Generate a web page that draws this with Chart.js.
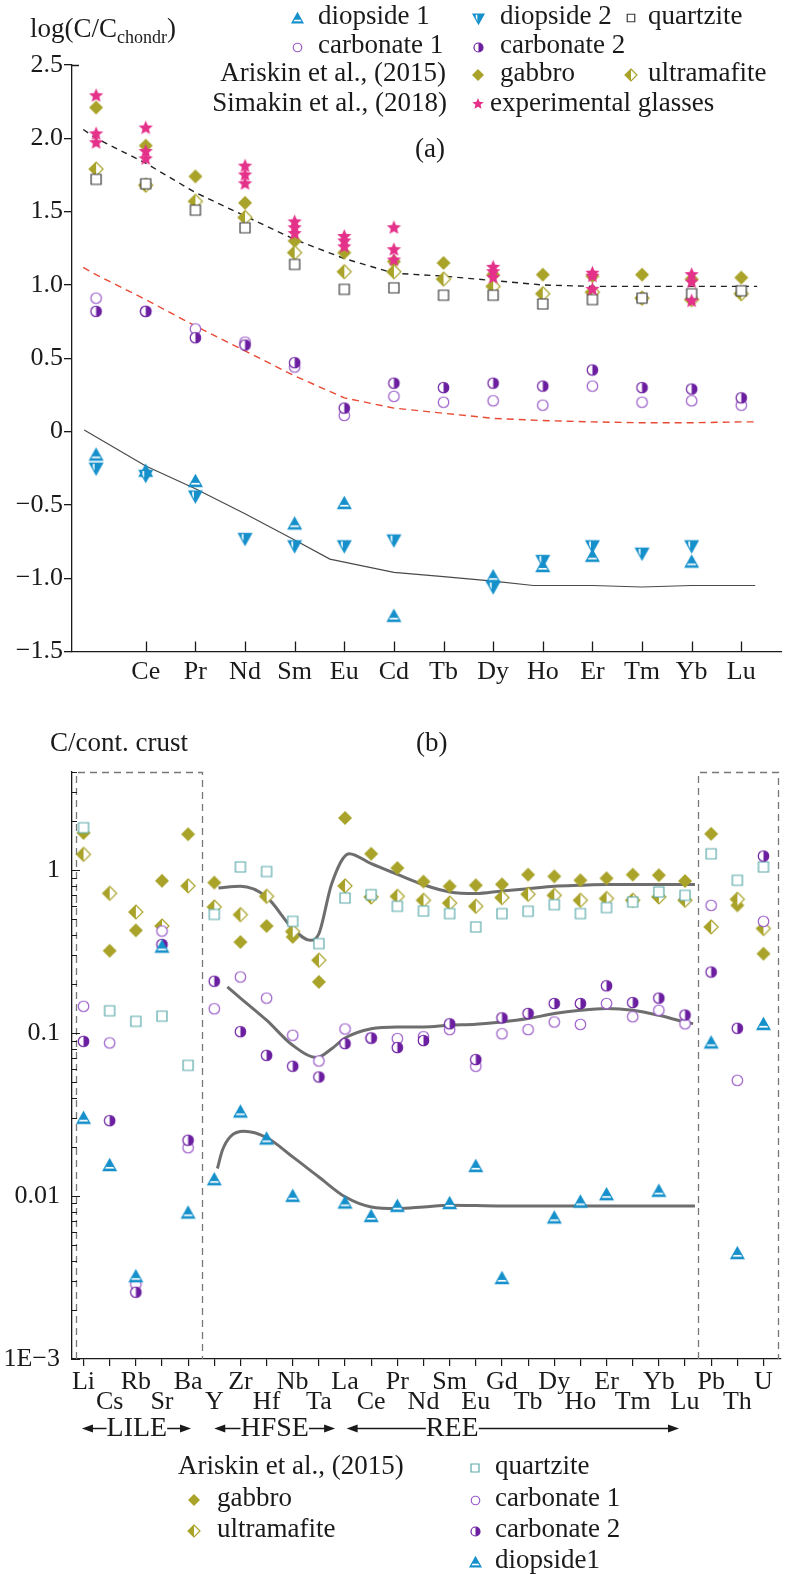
<!DOCTYPE html>
<html><head><meta charset="utf-8">
<script src="https://cdn.jsdelivr.net/npm/chart.js@4.4.1/dist/chart.umd.min.js"></script>
<style>
html,body{margin:0;padding:0;background:#fff}
body{width:788px;height:1574px;position:relative;overflow:hidden;font-family:'Liberation Serif','Times New Roman',serif;color:#1a1a1a}
canvas{position:absolute;left:0}
.t{position:absolute;white-space:nowrap;font-size:27px;line-height:27px}
.t sub{font-size:18px;vertical-align:baseline;position:relative;top:6px}
</style></head><body>
<canvas id="c1" width="788" height="720" style="top:0"></canvas>
<canvas id="c2" width="788" height="854" style="top:720px"></canvas>
<div id="texts"></div>
<script>
// ---------------- data: panel (a) ----------------
const topElements   = ['La','Ce','Pr','Nd','Sm','Eu','Cd','Tb','Dy','Ho','Er','Tm','Yb','Lu'];
const topTickLabels = ['','Ce','Pr','Nd','Sm','Eu','Cd','Tb','Dy','Ho','Er','Tm','Yb','Lu'];
const topYTicks = [2.5,2.0,1.5,1.0,0.5,0,-0.5,-1.0,-1.5];
const diop1Top  = [-0.16,-0.27,-0.34,null,-0.63,-0.49,-1.26,null,-0.99,-0.92,-0.85,null,-0.89,null];
const diop2Top  = [-0.25,-0.30,-0.44,-0.73,-0.78,-0.78,-0.74,null,-1.06,-0.88,-0.78,-0.83,-0.78,null];
const quartzTop = [1.72,1.69,1.51,1.39,1.14,0.97,0.98,0.93,0.93,0.87,0.90,0.91,0.94,0.96];
const carb1Top  = [0.91,0.82,0.70,0.61,0.44,0.11,0.24,0.20,0.21,0.18,0.31,0.20,0.21,0.18];
const carb2Top  = [0.82,0.82,0.64,0.59,0.47,0.16,0.33,0.30,0.33,0.31,0.42,0.30,0.29,0.23];
const gabbroTop = [2.21,1.95,1.74,1.56,1.30,1.22,1.16,1.15,1.07,1.07,1.06,1.07,1.04,1.05];
const ultraTop  = [1.79,1.68,1.57,1.46,1.22,1.09,1.09,1.04,0.99,0.94,0.95,0.91,0.90,0.94];
const glassTop  = [[2.29,2.03,1.97],[2.07,1.91,1.86],null,[1.81,1.75,1.69],[1.43,1.39,1.35],[1.33,1.30,1.26],[1.39,1.24,1.17],null,[1.12,1.09,1.05],null,[1.08,1.06,0.97],null,[1.07,1.02,0.89],null];
const trendTopX      = [-0.26,0,1,2,3,4,5,6,7,8,9,10,11,12,13,13.32];
const trendBlackDash = [2.06,2.00,1.83,1.63,1.47,1.31,1.18,1.08,1.06,1.03,1.00,0.99,0.99,0.99,0.99,0.99];
const trendRedDash   = [1.12,1.07,0.90,0.72,0.55,0.38,0.23,0.16,0.125,0.09,0.075,0.066,0.06,0.06,0.066,0.066];
const trendSolidX    = [-0.24,1,2,3,4,4.71,5,6,7,8,8.81,9,10,11,12,13,13.28];
const trendSolid     = [0.01,-0.235,-0.39,-0.56,-0.74,-0.87,-0.89,-0.96,-0.99,-1.02,-1.05,-1.05,-1.05,-1.06,-1.05,-1.05,-1.05];

// ---------------- data: panel (b) ----------------
const botCats = ['Li','Cs','Rb','Sr','Ba','Y','Zr','Hf','Nb','Ta','La','Ce','Pr','Nd','Sm','Eu','Gd','Tb','Dy','Ho','Er','Tm','Yb','Lu','Pb','Th','U'];
const botYTicks  = [0.001,0.01,0.1,1];
const botYLabels = ['1E\u22123','0.01','0.1','1'];
const gabbroBot = [1.69,0.32,0.427,0.86,1.66,0.838,0.362,0.454,0.389,0.206,2.09,1.26,1.03,0.85,0.796,0.807,0.818,0.938,0.916,0.866,0.891,0.938,0.93,0.857,1.67,0.608,0.307];
const ultraBot  = [1.25,0.72,0.553,0.454,0.80,0.594,0.533,0.69,0.42,0.28,0.80,0.684,0.69,0.653,0.628,0.60,0.678,0.711,0.70,0.653,0.669,0.653,0.684,0.653,0.448,0.662,0.438];
const quartzBot = [1.82,0.137,0.118,0.127,0.0634,0.535,1.045,0.98,0.485,0.354,0.674,0.707,0.60,0.561,0.541,0.448,0.541,0.559,0.614,0.541,0.589,0.637,0.734,0.70,1.26,0.866,1.045];
const carb1Bot  = [0.146,0.087,0.00288,0.423,0.0198,0.141,0.221,0.164,0.097,0.0674,0.106,0.093,0.0925,0.095,0.105,0.0626,0.099,0.105,0.117,0.113,0.152,0.126,0.138,0.114,0.608,0.0513,0.485];
const carb2Bot  = [0.089,0.029,0.00257,0.35,0.022,0.208,0.102,0.073,0.0626,0.0538,0.0862,0.0933,0.0815,0.090,0.114,0.0688,0.124,0.132,0.152,0.152,0.195,0.154,0.164,0.129,0.237,0.107,1.22];
const diop1Bot  = [0.030,0.0154,0.0032,0.337,0.00787,0.0126,0.0328,0.0224,0.00997,null,0.00907,0.0075,0.00865,null,0.009,0.0152,0.00312,null,0.00734,0.0092,0.0102,null,0.0107,null,0.087,0.00444,0.113];
const curveGabbroX = [5.16,6,7,8,8.67,9,9.49,10.16,11,12,13,14,15,16,17,18,19,20,21,22,23,23.38];
const curveGabbro  = [0.776,0.796,0.684,0.438,0.371,0.407,0.826,1.262,1.096,0.942,0.813,0.735,0.718,0.745,0.769,0.796,0.807,0.815,0.815,0.815,0.815,0.815];
const curveCarbX = [5.5,6,7,8,8.92,9.5,10,11,12,13,14,15,16,17,18,19,20,21,22,23,23.31];
const curveCarb  = [0.192,0.164,0.120,0.0841,0.0708,0.0804,0.0933,0.1064,0.1091,0.1091,0.1117,0.1132,0.1169,0.1227,0.1318,0.138,0.1413,0.138,0.1285,0.1169,0.1143];
const curveDiopX = [5.12,5.31,5.63,6.14,7,8,9,10,11,12,13,14,16,18,20,22,23.38];
const curveDiop  = [0.01476,0.0191,0.0233,0.0250,0.02286,0.01738,0.01309,0.00989,0.00857,0.00838,0.00857,0.00879,0.00869,0.00869,0.00869,0.00869,0.00869];

// ---------------- styling ----------------
const FONT = "'Liberation Serif','Times New Roman',serif";
const INK = '#1a1a1a', BLUE = '#1590cb', OLIVE = '#a9a32a', PINK = '#e4318a',
      PURPLE = '#6b1fa0', LILAC = '#9a5cc9', TEAL = '#5aa9aa', QGRAY = '#3a3a3a';
Chart.defaults.font.family = FONT;
Chart.defaults.color = INK;

function marker(type, color, s) {
  const W = Math.ceil(s) + 4, c = document.createElement('canvas');
  c.width = W; c.height = W;
  const g = c.getContext('2d'), m = W / 2, r = s / 2;
  g.lineWidth = 1.2; g.strokeStyle = color; g.fillStyle = color;
  const P = {
    up:   () => { g.beginPath(); g.moveTo(m, m - r); g.lineTo(m + r, m + 0.8 * r); g.lineTo(m - r, m + 0.8 * r); g.closePath(); },
    down: () => { g.beginPath(); g.moveTo(m - r, m - 0.8 * r); g.lineTo(m + r, m - 0.8 * r); g.lineTo(m, m + r); g.closePath(); },
    sq:   () => { g.beginPath(); g.rect(m - r, m - r, 2 * r, 2 * r); },
    ci:   () => { g.beginPath(); g.arc(m, m, r, 0, Math.PI * 2); },
    di:   () => { g.beginPath(); g.moveTo(m, m - r); g.lineTo(m + r, m); g.lineTo(m, m + r); g.lineTo(m - r, m); g.closePath(); }
  };
  if (type === 'd1') {
    P.up(); g.fill(); g.save(); P.up(); g.clip();
    g.fillStyle = '#fff'; g.fillRect(m - r, m + 0.22 * r, 2 * r, Math.max(1.6, 0.26 * r)); g.restore();
    P.up(); g.stroke();
  } else if (type === 'd2') {
    P.down(); g.fill(); g.save(); P.down(); g.clip();
    g.fillStyle = '#fff'; g.fillRect(m - 0.5 * r, m - r, Math.max(1.6, 0.26 * r), 2 * r); g.restore();
    P.down(); g.stroke();
  } else if (type === 'sq') {
    P.sq(); g.fillStyle = '#fff'; g.fill(); g.stroke();
  } else if (type === 'ci') {
    P.ci(); g.fillStyle = '#fff'; g.fill(); g.stroke();
  } else if (type === 'hc') {
    P.ci(); g.fillStyle = '#fff'; g.fill();
    g.fillStyle = color; g.beginPath(); g.arc(m, m, r, -Math.PI / 2, Math.PI / 2); g.closePath(); g.fill();
    P.ci(); g.stroke();
  } else if (type === 'di') {
    P.di(); g.fill();
  } else if (type === 'hd') {
    P.di(); g.fillStyle = '#fff'; g.fill();
    g.fillStyle = color; g.beginPath(); g.moveTo(m, m - r); g.lineTo(m - r, m); g.lineTo(m, m + r); g.closePath(); g.fill();
    P.di(); g.stroke();
  } else if (type === 'st') {
    g.beginPath();
    for (let k = 0; k < 10; k++) {
      const a = -Math.PI / 2 + k * Math.PI / 5, rr = k % 2 ? r * 0.45 : r;
      g.lineTo(m + rr * Math.cos(a), m + rr * Math.sin(a));
    }
    g.closePath(); g.fill();
  }
  return c;
}

function pts(arr) {
  const o = [];
  arr.forEach((v, i) => {
    if (v == null) return;
    if (Array.isArray(v)) v.forEach(w => o.push({x: i, y: w}));
    else o.push({x: i, y: v});
  });
  return o;
}
function curve(xs, ys) { return xs.map((x, i) => ({x: x, y: ys[i]})); }

// markers
const MT = { d1: marker('d1', BLUE, 13), d2: marker('d2', BLUE, 13), sq: marker('sq', QGRAY, 10),
  ci: marker('ci', LILAC, 10.5), hc: marker('hc', PURPLE, 10.5), di: marker('di', OLIVE, 14),
  hd: marker('hd', OLIVE, 14), st: marker('st', PINK, 15) };
const MB = { d1: marker('d1', BLUE, 13), sq: marker('sq', TEAL, 10), ci: marker('ci', LILAC, 10.5),
  hc: marker('hc', PURPLE, 10.5), di: marker('di', OLIVE, 14), hd: marker('hd', OLIVE, 14) };
const LT = { d1: marker('d1', BLUE, 11), d2: marker('d2', BLUE, 11), sq: marker('sq', QGRAY, 7.5),
  ci: marker('ci', LILAC, 8.5), hc: marker('hc', PURPLE, 9), di: marker('di', OLIVE, 12),
  hd: marker('hd', OLIVE, 12), st: marker('st', PINK, 12) };
const LB = { d1: marker('d1', BLUE, 11), sq: marker('sq', TEAL, 8), ci: marker('ci', LILAC, 8.5),
  hc: marker('hc', PURPLE, 9), di: marker('di', OLIVE, 12), hd: marker('hd', OLIVE, 12) };

// ---------------- texts ----------------
const texts = [
  // [html, x, cy, align, size]
  ['log(C/C<sub>chondr</sub>)', 30, 31, 'left', 27],
  ['diopside 1', 318, 18, 'left', 27], ['diopside 2', 500, 18, 'left', 27], ['quartzite', 648, 18, 'left', 27],
  ['carbonate 1', 318, 47, 'left', 27], ['carbonate 2', 500, 47, 'left', 27],
  ['Ariskin et al., (2015)', 446, 75, 'right', 27], ['gabbro', 500, 75, 'left', 27], ['ultramafite', 648, 75, 'left', 27],
  ['Simakin et al., (2018)', 447, 105, 'right', 27], ['experimental glasses', 490, 105, 'left', 27],
  ['(a)', 445, 151, 'right', 27],
  ['C/cont. crust', 50, 745, 'left', 27], ['(b)', 416, 745, 'left', 27],
  ['Ariskin et al., (2015)', 178, 1468, 'left', 27],
  ['gabbro', 217, 1500, 'left', 27], ['ultramafite', 217, 1531, 'left', 27],
  ['quartzite', 495, 1468, 'left', 27], ['carbonate 1', 495, 1500, 'left', 27],
  ['carbonate 2', 495, 1531, 'left', 27], ['diopside1', 495, 1562, 'left', 27]
];
const tc = document.getElementById('texts');
texts.forEach(([h, x, cy, al, fs]) => {
  const d = document.createElement('div');
  d.className = 't'; d.innerHTML = h;
  d.style.fontSize = fs + 'px'; d.style.lineHeight = fs + 'px';
  d.style.top = (cy - 0.58 * fs) + 'px';
  if (al === 'left') d.style.left = x + 'px'; else d.style.right = (788 - x) + 'px';
  tc.appendChild(d);
});

const legendTop = [[LT.d1, 297, 18], [LT.d2, 478, 18], [LT.sq, 631, 18], [LT.ci, 297, 47], [LT.hc, 478, 47],
  [LT.di, 478, 75], [LT.hd, 631, 75], [LT.st, 478, 104]];
const legendBot = [[LB.di, 194, 1500], [LB.hd, 194, 1531], [LB.sq, 475, 1468], [LB.ci, 475, 1500],
  [LB.hc, 475, 1531], [LB.d1, 475, 1562]];

function drawLegend(ctx, list, dy) {
  list.forEach(([img, x, y]) => ctx.drawImage(img, Math.round(x - img.width / 2), Math.round(y - dy - img.height / 2)));
}

// ---------------- chart (a) ----------------
const topPlugin = {
  id: 'topExtras',
  afterDraw(chart) {
    const {ctx, chartArea: a, scales: {x}} = chart;
    ctx.save();
    ctx.strokeStyle = INK; ctx.lineWidth = 1.3;
    ctx.beginPath();
    topTickLabels.forEach((l, i) => {
      if (!l) return;
      const px = Math.round(x.getPixelForValue(i)) + 0.5;
      ctx.moveTo(px, a.bottom); ctx.lineTo(px, a.bottom - 10);
    });
    ctx.moveTo(a.left, a.top + 0.5); ctx.lineTo(a.left + 7, a.top + 0.5);
    ctx.stroke();
    drawLegend(ctx, legendTop, 0);
    ctx.restore();
  }
};

function fmtTop(v) {
  if (v === 0) return '0';
  return (v < 0 ? '\u2212' : '') + Math.abs(v).toFixed(1);
}

new Chart(document.getElementById('c1'), {
  type: 'scatter',
  data: { datasets: [
    {data: pts(glassTop), pointStyle: MT.st, pointRadius: 6, order: 1},
    {data: pts(diop2Top), pointStyle: MT.d2, pointRadius: 6, order: 2},
    {data: pts(diop1Top), pointStyle: MT.d1, pointRadius: 6, order: 3},
    {data: pts(carb2Top), pointStyle: MT.hc, pointRadius: 6, order: 4},
    {data: pts(carb1Top), pointStyle: MT.ci, pointRadius: 6, order: 5},
    {data: pts(quartzTop), pointStyle: MT.sq, pointRadius: 6, order: 6},
    {data: pts(gabbroTop), pointStyle: MT.di, pointRadius: 6, order: 8},
    {data: pts(ultraTop), pointStyle: MT.hd, pointRadius: 6, order: 7},
    {type: 'line', data: curve(trendTopX, trendBlackDash), showLine: true, borderColor: '#222', borderWidth: 1.4, borderDash: [6, 5], pointRadius: 0, order: 9},
    {type: 'line', data: curve(trendTopX, trendRedDash), showLine: true, borderColor: '#e84a33', borderWidth: 1.4, borderDash: [7, 5], pointRadius: 0, order: 10},
    {type: 'line', data: curve(trendSolidX, trendSolid), showLine: true, borderColor: '#4a4a4a', borderWidth: 1.2, pointRadius: 0, order: 11}
  ]},
  options: {
    responsive: false, animation: false, devicePixelRatio: 1,
    layout: {padding: {left: 0, right: 2, top: 65, bottom: 0}},
    plugins: {legend: {display: false}, tooltip: {enabled: false}},
    scales: {
      x: {type: 'linear', min: -0.486, max: 13.8,
        afterBuildTicks: s => { s.ticks = topTickLabels.map((l, i) => ({value: i})).filter(t => topTickLabels[t.value]); },
        afterFit: s => { s.height = 68.5; },
        grid: {display: false, drawTicks: false},
        border: {display: true, color: INK, width: 1.3},
        ticks: {autoSkip: false, maxRotation: 0, minRotation: 0, padding: 8, color: INK,
          font: {size: 26, lineHeight: 1}, callback: v => topTickLabels[v] || ''}
      },
      y: {type: 'linear', min: -1.5, max: 2.5,
        afterBuildTicks: s => { s.ticks = topYTicks.map(v => ({value: v})); },
        afterFit: s => { s.width = 72; },
        grid: {drawOnChartArea: false, drawTicks: true, tickLength: 8, color: INK, lineWidth: 1.3},
        border: {display: true, color: INK, width: 1.3},
        ticks: {padding: 1, color: INK, font: {size: 26}, callback: v => fmtTop(v)}
      }
    }
  },
  plugins: [topPlugin]
});

// ---------------- chart (b) ----------------
const groups = [
  {name: 'LILE', from: -0.06, to: 4.11, center: 2.04},
  {name: 'HFSE', from: 5.0, to: 9.62, center: 7.31},
  {name: 'REE', from: 10.06, to: 22.77, center: 14.1}
];
const leftBox = [-0.28, 4.53], rightBox = [23.51, 26.54];

function arrowHead(ctx, tipX, y, dir) {
  ctx.beginPath(); ctx.moveTo(tipX, y); ctx.lineTo(tipX + dir * 11, y - 4); ctx.lineTo(tipX + dir * 11, y + 4); ctx.closePath(); ctx.fill();
}

const botPlugin = {
  id: 'botExtras',
  beforeDatasetsDraw(chart) {
    const {ctx, chartArea: a, scales: {x, y}} = chart;
    ctx.save();
    ctx.strokeStyle = '#777'; ctx.lineWidth = 1.3; ctx.setLineDash([7, 5]);
    [leftBox, rightBox].forEach(([l, r]) => {
      const x0 = Math.round(x.getPixelForValue(l)) + 0.5, x1 = Math.round(x.getPixelForValue(r)) + 0.5;
      const yt = Math.round(y.getPixelForValue(4)) + 0.5, yb = y.getPixelForValue(0.001);
      ctx.beginPath(); ctx.moveTo(x0, yb); ctx.lineTo(x0, yt); ctx.lineTo(x1, yt); ctx.lineTo(x1, yb); ctx.stroke();
    });
    ctx.restore();
  },
  afterDraw(chart) {
    const {ctx, chartArea: a, scales: {x, y}} = chart;
    ctx.save();
    ctx.strokeStyle = INK; ctx.lineWidth = 1.2;
    ctx.beginPath();
    for (let d = -3; d <= 0; d++) {
      for (let k = 1; k <= 9; k++) {
        const v = k * Math.pow(10, d);
        if (v > 4.0001) continue;
        const py = Math.round(y.getPixelForValue(v)) + 0.5;
        ctx.moveTo(a.left, py); ctx.lineTo(a.left + (k === 1 ? 8 : 5), py);
      }
    }
    ctx.stroke();
    // group arrows
    const gy = 708;
    ctx.fillStyle = INK; ctx.font = '28px ' + FONT; ctx.textAlign = 'center'; ctx.textBaseline = 'middle';
    ctx.lineWidth = 1.3;
    groups.forEach(gp => {
      const cx = x.getPixelForValue(gp.center), xl = x.getPixelForValue(gp.from), xr = x.getPixelForValue(gp.to);
      const w = ctx.measureText(gp.name).width;
      ctx.fillText(gp.name, cx, gy + 1);
      ctx.beginPath();
      ctx.moveTo(xl + 6, gy + 0.5); ctx.lineTo(cx - w / 2, gy + 0.5);
      ctx.moveTo(cx + w / 2, gy + 0.5); ctx.lineTo(xr - 6, gy + 0.5);
      ctx.stroke();
      arrowHead(ctx, xl, gy + 0.5, 1); arrowHead(ctx, xr, gy + 0.5, -1);
    });
    drawLegend(ctx, legendBot, 720);
    ctx.restore();
  }
};

new Chart(document.getElementById('c2'), {
  type: 'scatter',
  data: { datasets: [
    {data: pts(diop1Bot), pointStyle: MB.d1, pointRadius: 6, order: 1},
    {data: pts(carb2Bot), pointStyle: MB.hc, pointRadius: 6, order: 2},
    {data: pts(carb1Bot), pointStyle: MB.ci, pointRadius: 6, order: 3},
    {data: pts(quartzBot), pointStyle: MB.sq, pointRadius: 6, order: 4},
    {data: pts(ultraBot), pointStyle: MB.hd, pointRadius: 6, order: 5},
    {data: pts(gabbroBot), pointStyle: MB.di, pointRadius: 6, order: 6},
    {type: 'line', data: curve(curveGabbroX, curveGabbro), showLine: true, borderColor: '#6e6e6e', borderWidth: 3, pointRadius: 0, cubicInterpolationMode: 'monotone', order: 7},
    {type: 'line', data: curve(curveCarbX, curveCarb), showLine: true, borderColor: '#6e6e6e', borderWidth: 3, pointRadius: 0, cubicInterpolationMode: 'monotone', order: 8},
    {type: 'line', data: curve(curveDiopX, curveDiop), showLine: true, borderColor: '#6e6e6e', borderWidth: 3, pointRadius: 0, cubicInterpolationMode: 'monotone', order: 9}
  ]},
  options: {
    responsive: false, animation: false, devicePixelRatio: 1,
    layout: {padding: {left: 0, right: 2, top: 52, bottom: 0}},
    plugins: {legend: {display: false}, tooltip: {enabled: false}},
    scales: {
      x: {type: 'linear', min: -0.44, max: 26.67,
        afterBuildTicks: s => { s.ticks = botCats.map((c, i) => ({value: i})); },
        afterFit: s => { s.height = 215; },
        grid: {drawOnChartArea: false, drawTicks: true, tickLength: 7, color: INK, lineWidth: 1.2},
        border: {display: true, color: INK, width: 1.3},
        ticks: {autoSkip: false, maxRotation: 0, minRotation: 0, padding: 6, color: INK,
          font: {size: 26, lineHeight: 20 / 26},
          callback: v => (v % 2 === 0 ? [botCats[v], ''] : ['', botCats[v]])}
      },
      y: {type: 'logarithmic', min: 0.001, max: 4,
        afterBuildTicks: s => { s.ticks = botYTicks.map(v => ({value: v})); },
        afterFit: s => { s.width = 72; },
        grid: {display: false, drawTicks: false},
        border: {display: true, color: INK, width: 1.3},
        ticks: {padding: 12, color: INK, font: {size: 26},
          callback: v => { const i = botYTicks.findIndex(t => Math.abs(t - v) < 1e-9); return i >= 0 ? botYLabels[i] : ''; }}
      }
    }
  },
  plugins: [botPlugin]
});
</script>
</body></html>
